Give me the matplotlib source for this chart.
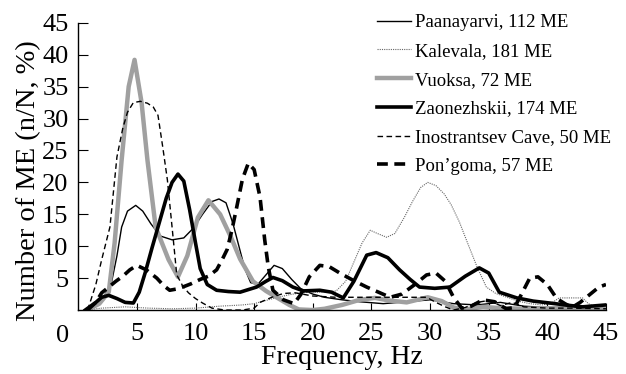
import matplotlib
matplotlib.use("Agg")
import matplotlib.pyplot as plt

plt.rcParams['font.family'] = ['Liberation Serif', 'DejaVu Serif']

# --- data (frequency in Hz, share of ME in %) ---
paan_f = [0.6, 1.5, 2.2, 2.8, 3.3, 3.7, 4.2, 4.9, 5.5, 6.2, 7.0, 8.0, 9.0, 9.8, 10.6, 11.4, 12.0, 12.6,
          13.2, 13.7, 14.2, 14.7, 15.3, 16.0, 16.7, 17.4, 18.2, 19.0, 20.0, 21.0, 22.5, 24, 26, 28, 30,
          32, 34, 36, 38, 40, 42, 45]
paan_v = [0, 1.0, 2.2, 4.0, 8.5, 13.0, 15.5, 16.4, 15.5, 13.5, 11.6, 11.0, 11.3, 12.8, 15.0, 17.0, 17.4, 16.8,
          13.5, 10.0, 6.5, 4.3, 4.0, 5.5, 7.0, 6.5, 4.8, 3.3, 2.5, 2.0, 1.6, 1.3, 1.0, 1.3, 1.6,
          1.0, 0.8, 1.2, 0.6, 0.4, 0.5, 0.3]

kal_f = [0.6, 2, 4, 6, 8, 10, 12, 14, 15, 16, 17, 18, 19, 20, 21, 22, 22.8, 23.5, 24.2, 24.9, 25.5, 26.3,
         27.0, 27.8, 28.5, 29.2, 29.8, 30.5, 31.2, 31.8, 32.5, 33.2, 34.0, 34.8, 35.6, 36.4, 37.5, 38.5,
         39.5, 40.3, 41, 42, 43, 43.5, 44.2, 45]
kal_v = [0, 0.3, 0.5, 0.3, 0.2, 0.3, 0.6, 0.8, 1.0, 1.5, 2.0, 2.4, 2.7, 2.8, 2.8, 3.0, 4.5, 7.5, 10.5, 12.5, 12.0, 11.4,
         12.0, 14.5, 17.0, 19.2, 20.0, 19.5, 18.2, 16.5, 13.8, 10.5, 6.8, 3.6, 2.6, 2.1, 1.4, 1.0,
         0.8, 1.0, 1.9, 1.9, 1.9, 1.0, 0.4, 0.3]

vuo_f = [0.8, 1.8, 2.6, 3.1, 3.7, 4.3, 4.8, 5.4, 5.9, 6.6, 7.7, 8.5, 9.3, 10.2, 11.1, 12.1, 13.0, 13.8, 14.9,
         16.0, 16.9, 18.0, 18.8, 20, 21, 22.5, 24, 25.3, 26.5, 28, 29.8, 31, 32, 33, 34.5, 36, 38, 40, 42, 45]
vuo_v = [0, 1.0, 2.8, 10.5, 23.5, 35.0, 39.2, 32.5, 23.5, 13.0, 7.9, 5.2, 8.5, 14.5, 17.2, 15.0, 11.5, 8.0, 4.5,
         3.0, 2.0, 0.8, 0.1, 0, 0.2, 0.8, 1.6, 1.9, 1.5, 1.2, 2.0, 1.4, 0.4, 0.1, 0.5, 0.3, 0.2, 0.3, 0.2, 0.2]

zao_f = [0.6, 1.5, 2.0, 2.6, 3.3, 4.0, 4.7, 5.2, 5.7, 6.3, 6.8, 7.5, 8.0, 8.5, 9.0, 9.5, 10.0, 10.4, 11.0, 11.8,
         12.8, 13.8, 15.2, 16.0, 16.6, 17.4, 18.3, 19.2, 20.6, 21.6, 22.6, 23.5, 24.6, 25.4, 26.4, 27.4, 28.3,
         29.1, 30.4, 31.7, 33.0, 34.2, 35.0, 35.9, 37.4, 38.8, 40.2, 42.0, 43.0, 45]
zao_v = [0, 1.2, 2.0, 2.3, 1.8, 1.2, 1.1, 2.8, 5.8, 9.8, 13.0, 17.5, 20.0, 21.3, 20.2, 15.7, 10.5, 6.5, 4.0, 3.1,
         2.9, 2.8, 3.6, 4.5, 5.1, 4.6, 3.6, 3.0, 3.1, 2.8, 1.9, 4.5, 8.6, 9.0, 8.2, 6.3, 4.8,
         3.6, 3.4, 3.6, 5.3, 6.6, 5.8, 2.8, 1.9, 1.4, 1.1, 0.7, 0.5, 0.8]

ino_f = [0.8, 1.5, 2.0, 2.7, 3.3, 3.8, 4.2, 4.7, 5.3, 5.9, 6.4, 6.8, 7.2, 7.6, 8.0, 8.4, 8.9, 9.4, 10.0, 10.6,
         11.4, 12.5, 14.0, 15.0, 15.5, 16.5, 17.5, 18.5, 20, 22, 24, 26, 28, 29.7, 30.5, 31.3, 32.0, 33, 34,
         35, 36, 37, 38, 40, 42, 45]
ino_v = [0, 4.0, 7.9, 13.0, 24.0, 28.5, 31.0, 32.5, 32.7, 32.4, 31.8, 30.5, 25.6, 20.4, 13.0, 5.5, 3.8, 2.7, 1.8, 1.1,
         0.3, 0, 0, 0.3, 1.2, 2.0, 2.6, 2.7, 2.2, 2.0, 2.0, 2.0, 2.0, 2.0, 1.2, 0.5, 0, 0.4, 1.2,
         1.5, 0.7, 1.2, 0.5, 0.3, 0.3, 0.2]

pon_f = [0.8, 1.5, 2.0, 2.6, 3.2, 3.8, 4.4, 5.0, 5.8, 6.7, 7.3, 7.8, 8.4, 8.9, 9.6, 10.4, 11.1, 11.8, 12.3, 12.7,
         13.1, 13.5, 14.0, 14.5, 15.0, 15.5, 15.9, 16.2, 16.6, 17.5, 18.4, 19.0, 19.7, 20.6, 21.4, 22.3, 23.5,
         24.6, 25.6, 26.6, 27.6, 28.7, 29.7, 30.5, 31.3, 32.0, 32.7, 33.5, 34.5, 35.5, 36.5, 37.2, 37.8, 38.5,
         39.2, 40.0, 40.8, 41.5, 42.1, 42.8, 43.6, 44.4, 45]
pon_v = [0, 1.2, 2.7, 3.6, 4.5, 5.3, 6.3, 7.0, 6.3, 5.0, 3.8, 3.1, 3.3, 3.6, 4.1, 4.8, 5.3, 6.3, 8.0, 9.5,
         12.5, 16.0, 20.5, 23.0, 22.0, 17.7, 11.0, 6.8, 3.1, 1.6, 1.0, 2.5, 5.2, 7.0, 6.8, 5.8, 4.6,
         3.6, 2.8, 2.0, 2.5, 4.0, 5.5, 5.8, 4.5, 2.0, 0.3, 0.6, 1.6, 1.3, 0.2, 0.4, 2.5, 5.0,
         5.2, 4.0, 1.8, 1.0, 0.4, 1.2, 2.4, 3.6, 4.0]

x_ticks = [5, 10, 15, 20, 25, 30, 35, 40, 45]
y_ticks = [5, 10, 15, 20, 25, 30, 35, 40, 45]

fig = plt.figure(figsize=(6.26, 3.74), dpi=100)
ax = fig.add_axes([0.125, 0.171, 0.843, 0.768])

ax.plot(paan_f, paan_v, color='black', lw=1.0, label='Paanayarvi, 112 ME')
ax.plot(kal_f, kal_v, color='#666666', lw=0.8, linestyle=(0, (1, 1)), label='Kalevala, 181 ME')
ax.plot(vuo_f, vuo_v, color='#a0a0a0', lw=3.2, label='Vuoksa, 72 ME')
ax.plot(zao_f, zao_v, color='black', lw=2.6, label='Zaonezhskii, 174 ME')
ax.plot(ino_f, ino_v, color='black', lw=1.0, linestyle=(0, (4, 2.5)), label='Inostrantsev Cave, 50 ME')
ax.plot(pon_f, pon_v, color='black', lw=2.6, linestyle=(0, (3, 1.8)), label='Pon\u2019goma, 57 ME')

ax.set_xlim(0, 45)
ax.set_ylim(0, 45)
ax.set_xticks(x_ticks)
ax.set_yticks(y_ticks)
ax.tick_params(axis='both', direction='in', labelsize=19)
ax.tick_params(axis='x', length=5, pad=9)
ax.tick_params(axis='y', length=7, pad=7)
# the "0" at the origin sits left of the axis
ax.annotate('0', xy=(0, 0), xycoords='data', xytext=(-11, -11), textcoords='offset points',
            ha='center', va='top', fontsize=19)

for s in ['top', 'right']:
    ax.spines[s].set_visible(False)
for s in ['left', 'bottom']:
    ax.spines[s].set_linewidth(1.0)

ax.set_xlabel('Frequency, Hz', fontsize=20, labelpad=0)
ax.set_ylabel('Number of ME (n/N, %)', fontsize=20.5)
ax.yaxis.set_label_coords(-0.07, 0.45)

ax.legend(loc='upper left', bbox_to_anchor=(377 / 626, 1 - 14 / 374), bbox_transform=fig.transFigure,
          frameon=False, fontsize=13.5, handlelength=1.8, handletextpad=0.25, labelspacing=0.62,
          borderpad=0, borderaxespad=0)

plt.savefig('out.png', dpi=100)
